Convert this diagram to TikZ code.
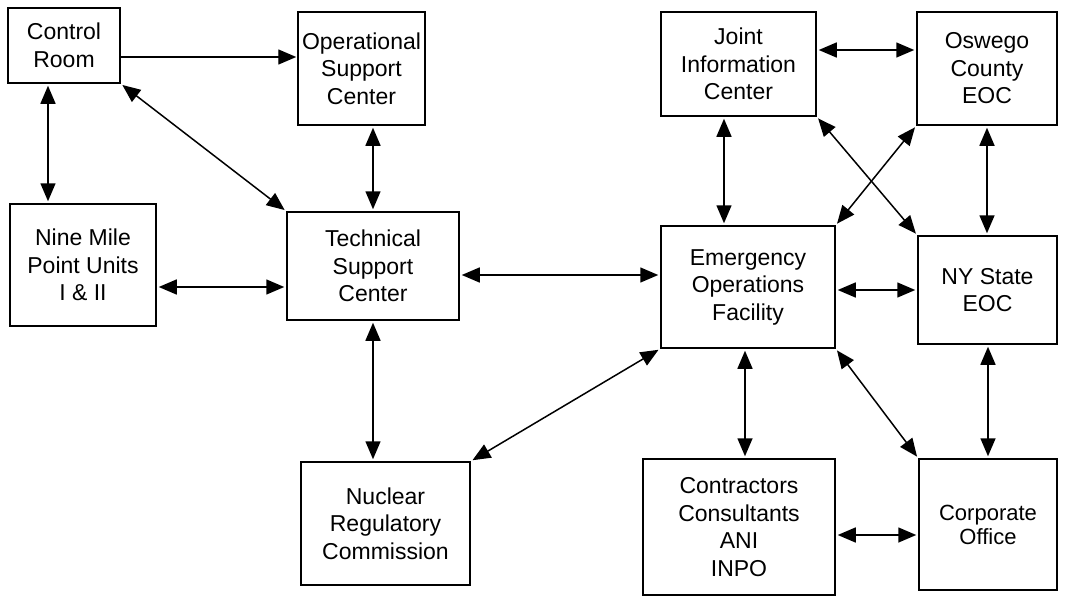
\documentclass[tikz,border=0pt]{standalone}
\usepackage{fontspec}
\setmainfont{Liberation Sans}
\usetikzlibrary{arrows.meta}
\begin{document}
\begin{tikzpicture}[x=1pt, y=-1pt,
    >={Triangle[length=18pt,width=15pt]},
    box/.style = {draw, line width=1.5pt, align=center, inner sep=0pt,
                  font=\fontsize{23}{27.5}\selectfont},
    link/.style = {<->, line width=1.5pt, shorten <=2pt, shorten >=2pt},
    oneway/.style = {->, line width=1.4pt, shorten >=1pt}]
  \useasboundingbox (0,0) rectangle (1065,597);
  \node[box, minimum width=112pt, minimum height=75pt] (ctrl) at (64,45.5) {Control\\Room};
  \node[box, minimum width=127pt, minimum height=113pt] (osc) at (361.5,68.5) {Operational\\Support\\Center};
  \node[box, minimum width=146pt, minimum height=122pt] (nmp) at (83,265) {Nine Mile\\Point Units\\I \& II};
  \node[box, minimum width=172pt, minimum height=108pt] (tsc) at (373,266) {Technical\\Support\\Center};
  \node[box, minimum width=169pt, minimum height=123pt] (nrc) at (385.5,523.5) {Nuclear\\Regulatory\\Commission};
  \node[box, minimum width=155pt, minimum height=104pt] (jic) at (738.5,64) {Joint\\Information\\Center};
  \node[box, minimum width=174pt, minimum height=122pt] (eof) at (748,287) {Emergency\\Operations\\Facility};
  \node[box, minimum width=192pt, minimum height=136pt] (contr) at (739,527) {Contractors\\Consultants\\ANI\\INPO};
  \node[box, minimum width=140pt, minimum height=113pt] (osw) at (987,68.5) {Oswego\\County\\EOC};
  \node[box, minimum width=139pt, minimum height=108pt] (nys) at (987.5,290) {NY State\\EOC};
  \node[box, minimum width=138pt, minimum height=131pt, font=\fontsize{22}{24}\selectfont] (corp) at (988,524.5) {Corporate\\Office};

  \draw[oneway] ([yshift=-11.5pt]ctrl.east) -- ([yshift=-11.5pt]ctrl.east -| osc.west);
  \draw[link] ([xshift=-16pt]ctrl.south) -- ([xshift=-16pt]ctrl.south |- nmp.north);
  \draw[link] (ctrl.south east) -- (tsc.north west);
  \draw[link] (osc.south -| tsc.north) -- (tsc.north);
  \draw[link] ([yshift=-22pt]nmp.east) -- ([yshift=-22pt]nmp.east -| tsc.west);
  \draw[link] ([yshift=-9pt]tsc.east) -- ([yshift=-9pt]tsc.east -| eof.west);
  \draw[link] (tsc.south) -- (tsc.south |- nrc.north);
  \draw[link] (eof.south west) -- (nrc.north east);
  \draw[link] ([xshift=-14.5pt]jic.south) -- ([xshift=-14.5pt]jic.south |- eof.north);
  \draw[link] ([yshift=14pt]jic.east) -- ([yshift=14pt]jic.east -| osw.west);
  \draw[link] (jic.south east) -- (nys.north west);
  \draw[link] (osw.south west) -- (eof.north east);
  \draw[link] (osw.south) -- (osw.south |- nys.north);
  \draw[link] (nys.west -| eof.east) -- (nys.west);
  \draw[link] ([xshift=6pt]contr.north |- eof.south) -- ([xshift=6pt]contr.north);
  \draw[link] (eof.south east) -- (corp.north west);
  \draw[link] (nys.south -| corp.north) -- (corp.north);
  \draw[link] ([yshift=-10.5pt]corp.west -| contr.east) -- ([yshift=-10.5pt]corp.west);
\end{tikzpicture}
\end{document}
